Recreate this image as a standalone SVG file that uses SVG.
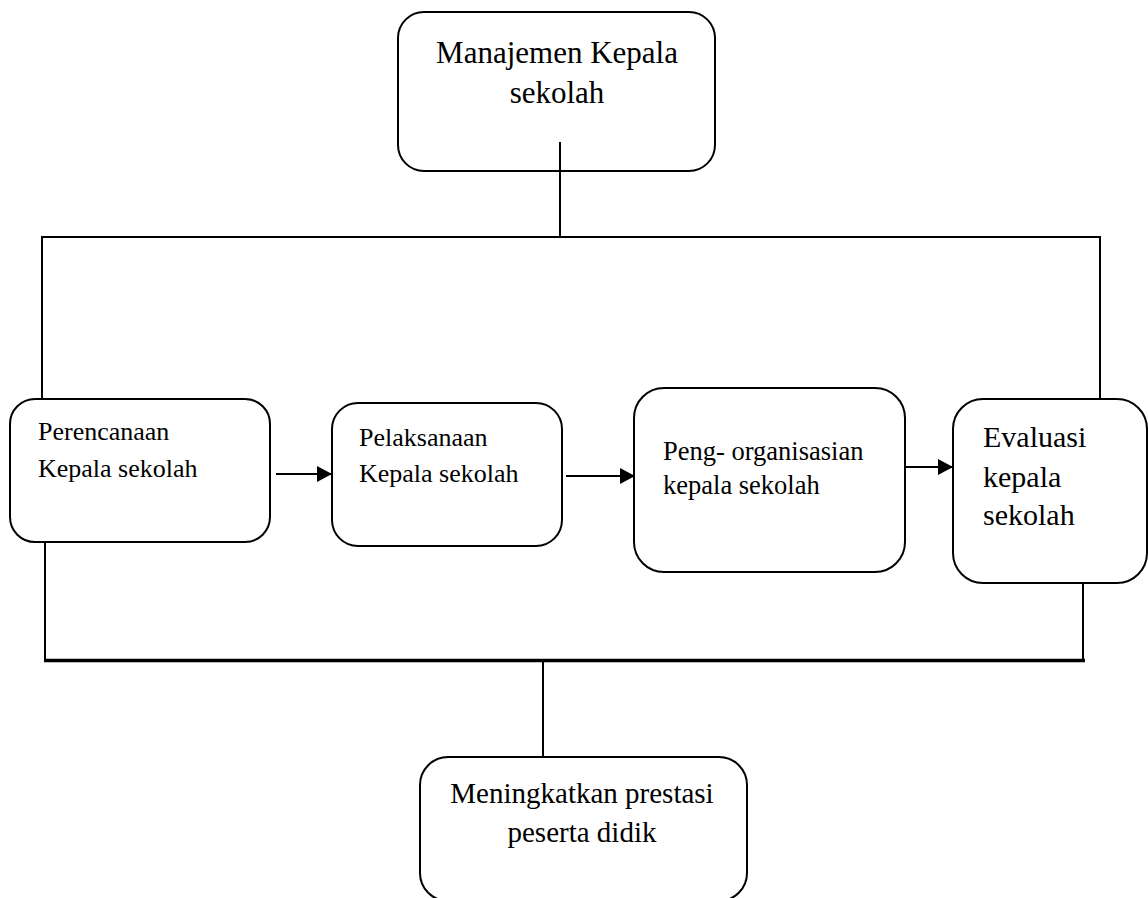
<svg xmlns="http://www.w3.org/2000/svg" width="1148" height="898" viewBox="0 0 1148 898">
<style>
.box{fill:#fff;stroke:#000;stroke-width:2}
.ln{fill:none;stroke:#000;stroke-width:2}
.thick{fill:none;stroke:#000;stroke-width:3.5}
text{font-family:"Liberation Serif","Times New Roman",serif;fill:#000}
</style>
<defs>
<marker id="ah" markerWidth="15" markerHeight="16" refX="15" refY="8" orient="auto" markerUnits="userSpaceOnUse">
<path d="M0,0 L15,8 L0,16 Z" fill="#000"/>
</marker>
</defs>
<rect width="1148" height="898" fill="#fff"/>
<g id="connectors">
<path class="ln" d="M42,398 V237 H1100 V400"/>
<path class="ln" d="M45,542 V660"/>
<path class="ln" d="M1083,584 V660"/>
<path class="thick" d="M44,660.5 H1085"/>
<path class="ln" d="M543,660 V757"/>
<line class="ln" x1="276" y1="474" x2="332" y2="474" stroke-width="2.5" marker-end="url(#ah)"/>
<line class="ln" x1="566" y1="476" x2="635" y2="476" stroke-width="2.5" marker-end="url(#ah)"/>
<line class="ln" x1="905" y1="467" x2="953" y2="467" stroke-width="2.5" marker-end="url(#ah)"/>
</g>
<g id="n-manajemen">
<rect class="box" x="398" y="12" width="317" height="159" rx="26"/>
<text x="557" y="63" font-size="31" text-anchor="middle">Manajemen Kepala</text>
<text x="557" y="103" font-size="31" text-anchor="middle">sekolah</text>
<path class="ln" d="M560,142 V237"/>
</g>
<g id="n-perencanaan">
<rect class="box" x="10" y="399" width="260" height="143" rx="25"/>
<text x="38" y="440" font-size="26">Perencanaan</text>
<text x="38" y="477" font-size="26">Kepala sekolah</text>
</g>
<g id="n-pelaksanaan">
<rect class="box" x="332" y="403" width="230" height="143" rx="26"/>
<text x="359" y="446" font-size="26">Pelaksanaan</text>
<text x="359" y="482" font-size="26">Kepala sekolah</text>
</g>
<g id="n-pengorganisasian">
<rect class="box" x="634" y="388" width="271" height="184" rx="30"/>
<text x="663" y="460" font-size="26.5">Peng- organisasian</text>
<text x="663" y="494" font-size="26.5">kepala sekolah</text>
</g>
<g id="n-evaluasi">
<rect class="box" x="953" y="399" width="194" height="184" rx="30"/>
<text x="983" y="447" font-size="30">Evaluasi</text>
<text x="983" y="487" font-size="30">kepala</text>
<text x="983" y="525" font-size="30">sekolah</text>
</g>
<g id="n-meningkatkan">
<rect class="box" x="420" y="757" width="327" height="144" rx="28"/>
<text x="582" y="803" font-size="29" text-anchor="middle">Meningkatkan prestasi</text>
<text x="582" y="842" font-size="29" text-anchor="middle">peserta didik</text>
</g>
</svg>
